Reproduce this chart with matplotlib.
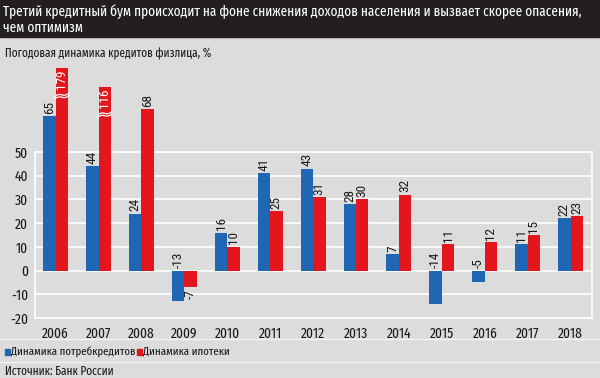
import numpy as np
import matplotlib
matplotlib.use("Agg")
import matplotlib.pyplot as plt
from matplotlib.patches import Rectangle
from matplotlib.lines import Line2D

years = [2006, 2007, 2008, 2009, 2010, 2011, 2012, 2013, 2014, 2015, 2016, 2017, 2018]
consumer = [65, 44, 24, -13, 16, 41, 43, 28, 7, -14, -5, 11, 22]
mortgage = [179, 116, 68, -7, 10, 25, 31, 30, 32, 11, 12, 15, 23]
yticks = [-20, -10, 0, 10, 20, 30, 40, 50]

title = ("Третий кредитный бум происходит на фоне снижения доходов населения и вызвает скорее опасения,\n"
         "чем оптимизм")
subtitle = "Погодовая динамика кредитов физлица, %"
legend_labels = ["Динамика потребкредитов", "Динамика ипотеки"]
source = "Источник: Банк России"

BLUE = "#1f66b5"
RED = "#e3151d"
BG = "#dcdcdc"
DARK = "#231f20"
TXT = "#1a1a1a"
MAIN_FONT = ["Fira Sans Extra Condensed", "Roboto Condensed", "DejaVu Sans"]
LABEL_FONT = ["Roboto Condensed", "DejaVu Sans"]
plt.rcParams["font.family"] = MAIN_FONT
plt.rcParams["axes.unicode_minus"] = False

W, H = 600, 378
fig = plt.figure(figsize=(W / 100, H / 100), dpi=100, facecolor=BG)

def fy(py):
    return 1 - py / H

# title bar
fig.patches.append(Rectangle((0, fy(37)), 1, 37 / H, transform=fig.transFigure,
                             color=DARK, zorder=0))
fig.text(3 / W, fy(20), title, color="white", fontsize=10.4, va="center", ha="left",
         linespacing=1.15)
fig.text(5 / W, fy(54), subtitle, color=TXT, fontsize=8.8, va="center", ha="left")

ax = fig.add_axes([35 / W, fy(318), (592 - 35) / W, (318 - 152) / H])
ax.set_facecolor(BG)
ax.set_xlim(2005.52, 2018.5)
ax.set_ylim(-20, 50)
ax.set_yticks(yticks)
ax.set_xticks(years)
ax.set_xticklabels([str(y) for y in years])
ax.grid(axis="y", color="white", lw=1.2, zorder=0)
for s in ax.spines.values():
    s.set_color("white")
    s.set_linewidth(1.2)
ax.tick_params(length=0, labelsize=10.5, colors=TXT)
ax.tick_params(axis="x", pad=6)
ax.tick_params(axis="y", pad=5)

bw = 0.29
x = np.array(years, dtype=float)

def shown(v):
    # compress values beyond the broken-axis limit
    lim = 100
    if v > lim:
        return 68 + 17.4 * np.log(v / 68) / np.log(179 / 68)
    return v

cons_h = [shown(v) for v in consumer]
mort_h = [shown(v) for v in mortgage]

ax.bar(x - bw / 2, cons_h, width=bw, color=BLUE, clip_on=False, zorder=3)
ax.bar(x + bw / 2, mort_h, width=bw, color=RED, clip_on=False, zorder=3)

lab_kw = dict(rotation=90, ha="center", fontsize=9.5, color=TXT, clip_on=False, zorder=5,
              family=LABEL_FONT)
pad = 1.0
for xi, v, h in zip(x, consumer, cons_h):
    if v >= 0:
        ax.text(xi - bw / 2, h + pad, str(v), va="bottom", **lab_kw)
    else:
        ax.text(xi - bw / 2, pad, str(v), va="bottom", **lab_kw)
for xi, v, h in zip(x, mortgage, mort_h):
    xc = xi + bw / 2
    if v > 100:
        ax.text(xc, h - 0.8, str(v), va="top", **{**lab_kw, "color": "white"})
        yb = h - 13.0
        xs = np.linspace(xc - bw / 2 - 0.02, xc + bw / 2 + 0.02, 30)
        t = (xs - xs[0]) / (xs[-1] - xs[0])
        base = yb + 1.4 * t + 0.45 * np.sin(2 * np.pi * t)
        for off in (0.0, 1.0):
            ax.plot(xs, base + off, color="white", lw=0.9, clip_on=False, zorder=6)
    elif v >= 0:
        ax.text(xc, h + pad, str(v), va="bottom", **lab_kw)
    else:
        ax.text(xc, h - pad, str(v), va="top", **lab_kw)

# separator lines
for py in (339, 362):
    fig.add_artist(Line2D([0, 1], [fy(py), fy(py)], color="#f2f2f2", lw=1.0,
                          transform=fig.transFigure))

# legend
fig.patches.append(Rectangle((5 / W, fy(355)), 5 / W, 6 / H, transform=fig.transFigure,
                             color=BLUE))
fig.text(11 / W, fy(351.5), legend_labels[0], color=TXT, fontsize=8.5, va="center", ha="left")
fig.patches.append(Rectangle((137 / W, fy(355)), 5 / W, 6 / H, transform=fig.transFigure,
                             color=RED))
fig.text(143 / W, fy(351.5), legend_labels[1], color=TXT, fontsize=8.5, va="center", ha="left")

fig.text(5 / W, fy(371.5), source, color=TXT, fontsize=8.8, va="center", ha="left")

fig.savefig("out.png", dpi=100, facecolor=BG)
